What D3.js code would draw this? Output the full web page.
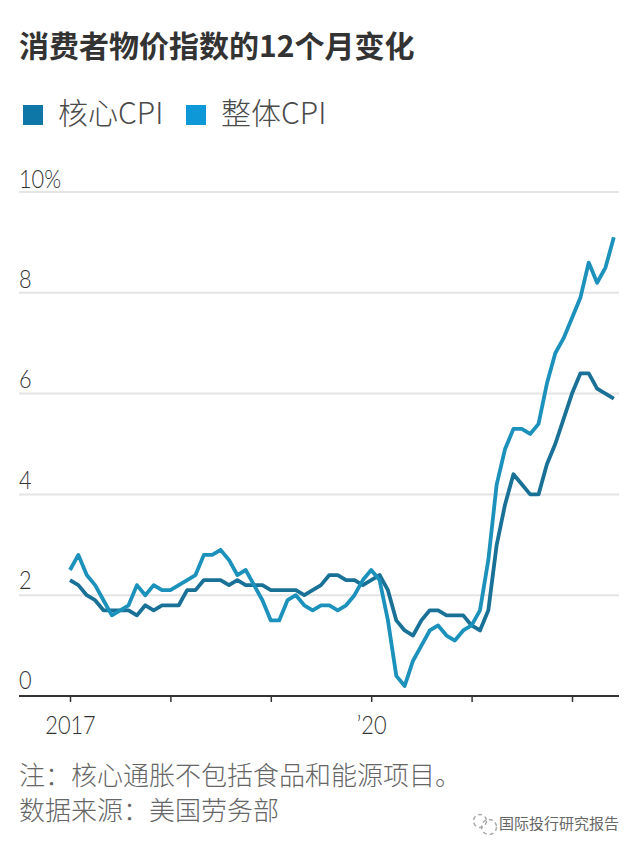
<!DOCTYPE html>
<html lang="zh">
<head>
<meta charset="utf-8">
<title>消费者物价指数的12个月变化</title>
<script src="https://cdn.jsdelivr.net/npm/d3@7"></script>
<style>
  html, body { margin: 0; padding: 0; background: #fff; }
  svg { display: block; }
  text { font-family: "Noto Sans CJK SC", "Noto Sans", sans-serif; }
  text.num { font-family: Lato, "Noto Sans", sans-serif; font-weight: 300; }
</style>
</head>
<body>
<svg id="chart" width="639" height="852"></svg>
<script>
// 12-month change in the consumer price index, monthly from January 2017.
const headlineCpi = [
  2.5, 2.8, 2.4, 2.2, 1.9, 1.6, 1.7, 1.8, 2.2, 2.0, 2.2, 2.1,
  2.1, 2.2, 2.3, 2.4, 2.8, 2.8, 2.9, 2.7, 2.4, 2.5, 2.2, 1.9,
  1.5, 1.5, 1.9, 2.0, 1.8, 1.7, 1.8, 1.8, 1.7, 1.8, 2.0, 2.3,
  2.5, 2.3, 1.5, 0.4, 0.2, 0.7, 1.0, 1.3, 1.4, 1.2, 1.1, 1.3,
  1.4, 1.7, 2.7, 4.2, 4.9, 5.3, 5.3, 5.2, 5.4, 6.2, 6.8, 7.1,
  7.5, 7.9, 8.6, 8.2, 8.5, 9.1
];
const coreCpi = [
  2.3, 2.2, 2.0, 1.9, 1.7, 1.7, 1.7, 1.7, 1.6, 1.8, 1.7, 1.8,
  1.8, 1.8, 2.1, 2.1, 2.3, 2.3, 2.3, 2.2, 2.3, 2.2, 2.2, 2.2,
  2.1, 2.1, 2.1, 2.1, 2.0, 2.1, 2.2, 2.4, 2.4, 2.3, 2.3, 2.2,
  2.3, 2.4, 2.1, 1.5, 1.3, 1.2, 1.5, 1.7, 1.7, 1.6, 1.6, 1.6,
  1.4, 1.3, 1.7, 3.0, 3.8, 4.4, 4.2, 4.0, 4.0, 4.6, 5.0, 5.5,
  6.0, 6.4, 6.4, 6.1, 6.0, 5.9
];
const yTicks = [0, 2, 4, 6, 8, 10];
const xTickMonths = [0, 12, 24, 36, 48, 60];
const xTickLabels = { 0: "2017", 36: "’20" };
const legendItems = [
  { label: "核心CPI", color: "#0f76a8" },
  { label: "整体CPI", color: "#0e98d8" }
];
const titleText = "消费者物价指数的12个月变化";
const noteLines = ["注：核心通胀不包括食品和能源项目。", "数据来源：美国劳务部"];
const brandText = "国际投行研究报告";

const svg = d3.select("#chart");
const ink = "#333333";

// x runs on months since January 2017
const x = d3.scaleLinear().domain([0, 60]).range([70, 572]);
const y = d3.scaleLinear().domain([0, 10]).range([696, 192]);
const yLabel = d3.scaleLinear().domain([0, 10]).range([689, 188]);

// Numerals are set a little narrower than the font's natural width
const condense = sel => sel.each(function () {
  d3.select(this)
    .attr("textLength", this.getComputedTextLength() * 0.87)
    .attr("lengthAdjust", "spacingAndGlyphs");
});

// Heading
svg.append("text").attr("x", 19).attr("y", 57)
  .attr("font-size", 30).attr("font-weight", 700).attr("fill", ink)
  .text(titleText);

// Legend
const legendX = [23, 186];
legendItems.forEach((d, i) => {
  svg.append("rect").attr("x", legendX[i]).attr("y", 105)
    .attr("width", 20).attr("height", 20).attr("fill", d.color);
  svg.append("text").attr("x", legendX[i] + 35).attr("y", 124)
    .attr("font-size", 30).attr("font-weight", 300).attr("fill", "#4a4a4a")
    .text(d.label);
});

// Horizontal gridlines and value labels
svg.append("g").selectAll("line").data(yTicks.filter(d => d > 0)).join("line")
  .attr("x1", 19).attr("x2", 619)
  .attr("y1", d => y(d)).attr("y2", d => y(d))
  .attr("stroke", "#e4e4e4").attr("stroke-width", 2);

svg.append("g").selectAll("text").data(yTicks).join("text")
  .attr("class", "num")
  .attr("x", 19).attr("y", d => yLabel(d))
  .attr("font-size", 25).attr("fill", ink)
  .text(d => d === 10 ? "10%" : d)
  .call(condense);

// Time axis
const xAxis = d3.axisBottom(x)
  .tickValues(xTickMonths)
  .tickSize(6)
  .tickPadding(14)
  .tickFormat(d => xTickLabels[d] || "");
const axisG = svg.append("g").attr("transform", `translate(0,${y(0)})`).call(xAxis);
axisG.select(".domain").attr("d", "M19,0H619").attr("stroke", ink).attr("stroke-width", 2);
axisG.selectAll(".tick line").attr("stroke", ink).attr("stroke-width", 1.5);
axisG.selectAll(".tick text")
  .attr("class", "num")
  .attr("font-size", 25).attr("fill", ink)
  .filter(d => xTickLabels[d])
  .call(condense);

// CPI lines
const line = d3.line().x((d, i) => x(i)).y(d => y(d)).curve(d3.curveLinear);
const drawSeries = (values, color) => {
  svg.append("path").attr("d", line(values)).attr("fill", "none")
    .attr("stroke", color).attr("stroke-width", 3.8)
    .attr("stroke-linejoin", "round").attr("stroke-linecap", "butt");
};
drawSeries(coreCpi, "#1a7197");
drawSeries(headlineCpi, "#1c91bb");

// Notes; the fullwidth colon takes the centred Traditional Chinese form
noteLines.forEach((t, i) => {
  const [head, rest] = t.split("：");
  const note = svg.append("text").attr("x", 19).attr("y", 785 + i * 35)
    .attr("font-size", 26).attr("font-weight", 300).attr("fill", "#666");
  note.append("tspan").text(head);
  note.append("tspan").style("font-family", '"Noto Sans CJK TC"').text("：");
  note.append("tspan").text(rest);
});

// Account mark: two speech bubbles traced with dashes
const mark = svg.append("g").attr("fill", "none").attr("stroke", "#aaaaaa")
  .attr("stroke-width", 1.5).attr("stroke-dasharray", "4 3");
mark.append("circle").attr("cx", 480).attr("cy", 821).attr("r", 6.5);
mark.append("circle").attr("cx", 489).attr("cy", 827).attr("r", 7.5);

svg.append("text").attr("x", 499).attr("y", 829)
  .attr("font-size", 15).attr("fill", "#666")
  .attr("textLength", 120).text(brandText);
</script>
</body>
</html>
